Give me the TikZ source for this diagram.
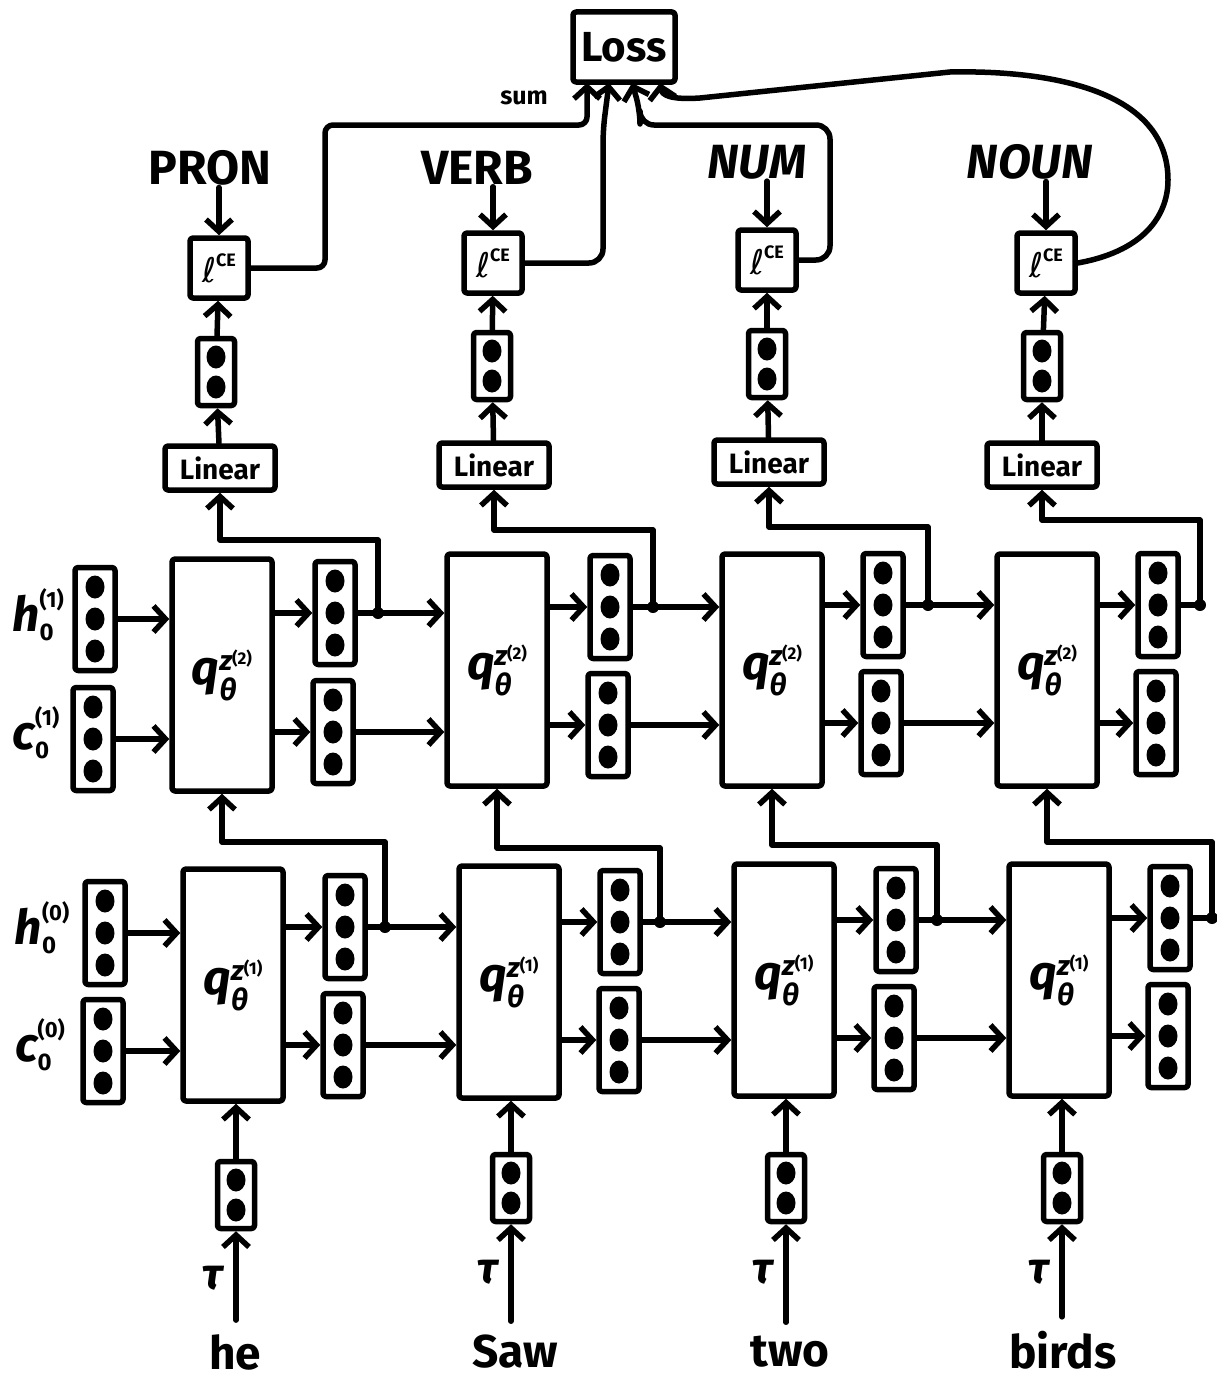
\documentclass[tikz,border=0pt]{standalone}
\usepackage{fontspec}
\setmainfont{Fira Sans}
\newfontfamily\sym{DejaVu Sans}
\usetikzlibrary{arrows.meta}
\newcommand\fs[1]{\fontsize{#1}{#1}\selectfont}
\newcommand\vthr[3]{\node[vthree] (#1) at (#2,#3) {};
  \foreach \d in {-32,0,32} \fill (#2,#3+\d) ellipse (9.5pt and 11.5pt);}
\newcommand\vtw[3]{\node[vtwo] (#1) at (#2,#3) {};
  \foreach \d in {-15,15} \fill (#2,#3+\d) ellipse (9.5pt and 11.5pt);}
\newcommand\hcl[3]{{\fs{48}\itshape\bfseries #1}\rlap{\raisebox{-9pt}{\fs{24}\bfseries #2}}\raisebox{24pt}{\fs{22}\bfseries(#3)}}
\newcommand\qlab[1]{{\fs{48}\itshape\bfseries q}\rlap{\raisebox{-16pt}{\fs{30}\itshape\bfseries θ}}\raisebox{14pt}{\fs{28}\itshape\bfseries z\raisebox{6pt}{\fs{17}\upshape(#1)}}}
\newcommand\celab{{\sym\fs{34}ℓ}\raisebox{16pt}{\fs{18}\bfseries CE}}
\begin{document}
\begin{tikzpicture}[x=1pt,y=-1pt, line width=5.5pt, line join=round, line cap=round,
  arr/.style={-{Straight Barb[length=12pt,width=26pt]}},
  box/.style={draw, rounded corners=3pt, inner sep=0pt},
  lstm/.style={box, minimum width=100pt, minimum height=232pt},
  vthree/.style={box, minimum width=40pt, minimum height=103pt},
  vtwo/.style={box, minimum width=37pt, minimum height=67pt},
  lin/.style={box, minimum width=110pt, minimum height=44pt, font=\fs{28}\bfseries},
  ce/.style={box, minimum width=58pt, minimum height=60pt},
  tag/.style={font=\fs{48}\bfseries},
  word/.style={font=\fs{46}\bfseries},
  tau/.style={font=\fs{44}\itshape\bfseries},
  dot/.style={circle, fill, inner sep=0pt, minimum size=12pt}]
\useasboundingbox (0,0) rectangle (1217,1381);

% Loss
\node[box, minimum width=102pt, minimum height=70pt, font=\fs{42}\bfseries] (Loss) at (624,47) {Loss};
\node[font=\fs{25}\bfseries] (sum) at (524,98) {sum};

% tags
\node[tag] (Pa) at (210,168) {PRON};
\node[tag] (Pb) at (477,168) {VERB};
\node[tag] (Pc) at (757,162) {\itshape NUM};
\node[tag] (Pd) at (1030,162) {\itshape NOUN};

% CE boxes
\node[ce] (CEa) at (219,268) {\celab};
\node[ce] (CEb) at (493,263) {\celab};
\node[ce] (CEc) at (767,260) {\celab};
\node[ce] (CEd) at (1046,263) {\celab};

% output vectors
\vtw{Va}{216}{372}
\vtw{Vb}{492}{366}
\vtw{Vc}{767}{364}
\vtw{Vd}{1042}{366}

% Linear
\node[lin] (LINa) at (220,468) {Linear};
\node[lin] (LINb) at (494,465) {Linear};
\node[lin] (LINc) at (769,462) {Linear};
\node[lin] (LINd) at (1042,465) {Linear};

% Layer 2
\node[lstm] (L2a) at (222,675) {\qlab{2}};
\node[lstm] (L2b) at (497,670) {\qlab{2}};
\node[lstm] (L2c) at (772,670) {\qlab{2}};
\node[lstm] (L2d) at (1047,670) {\qlab{2}};
\vthr{H2o}{95}{619}
\vthr{C2o}{93}{739}
\vthr{H2a}{335}{613}
\vthr{C2a}{333}{732}
\vthr{H2b}{610}{607}
\vthr{C2b}{608}{725}
\vthr{H2c}{883}{605}
\vthr{C2c}{881}{723}
\vthr{H2d}{1158}{605}
\vthr{C2d}{1156}{723}
\node (lh1) at (38,615) {\hcl{h}{0}{1}};
\node (lc1) at (36,733) {\hcl{c}{0}{1}};

% Layer 1
\node[lstm] (L1a) at (233,985) {\qlab{1}};
\node[lstm] (L1b) at (509,982) {\qlab{1}};
\node[lstm] (L1c) at (784,980) {\qlab{1}};
\node[lstm] (L1d) at (1059,980) {\qlab{1}};
\vthr{H1o}{105}{933}
\vthr{C1o}{103}{1051}
\vthr{H1a}{345}{927}
\vthr{C1a}{343}{1045}
\vthr{H1b}{620}{922}
\vthr{C1b}{619}{1040}
\vthr{H1c}{896}{920}
\vthr{C1c}{894}{1038}
\vthr{H1d}{1170}{918}
\vthr{C1d}{1168}{1036}
\node (lh0) at (42,928) {\hcl{h}{0}{0}};
\node (lc0) at (40,1045) {\hcl{c}{0}{0}};

% inputs
\vtw{Ia}{236}{1195}
\vtw{Ib}{511}{1188}
\vtw{Ic}{786}{1188}
\vtw{Id}{1062}{1188}
\node[word] (Wa) at (235,1352) {he};
\node[word] (Wb) at (515,1352) {Saw};
\node[word] (Wc) at (790,1352) {two};
\node[word] (Wd) at (1063,1350) {birds};
\node[tau] (Ta) at (213,1278) {τ};
\node[tau] (Tb) at (488,1272) {τ};
\node[tau] (Tc) at (763,1272) {τ};
\node[tau] (Td) at (1039,1272) {τ};

% ---- connectors: inputs
\foreach \c in {a,b,c,d} {
  \draw[arr] (W\c.north -| I\c) ++(0,-8) -- (I\c.south);
  \draw[arr] (I\c) -- (L1\c.south -| I\c);
}

% layer 1 horizontal
\draw[arr] (H1o) -- (L1a.west |- H1o);
\draw[arr] (C1o) -- (L1a.west |- C1o);
\foreach \c/\n in {a/b,b/c,c/d} {
  \draw[arr] (H1\c) -- (L1\n.west |- H1\c);
  \draw[arr] (C1\c) -- (L1\n.west |- C1\c);
}
\foreach \c in {a,b,c,d} {
  \draw[arr] (L1\c.east |- H1\c) -- (H1\c);
  \draw[arr] (L1\c.east |- C1\c) -- (C1\c);
}
% layer 1 -> layer 2
\node[dot] (J1a) at (385,927) {};
\node[dot] (J1b) at (660,922) {};
\node[dot] (J1c) at (937,920) {};
\draw (H1d) -- (1212,918) node[dot] (J1d) {};
\draw[arr] (J1a.center) -- (385,842) -| (L2a.south);
\draw[arr] (J1b.center) -- (660,848) -| (L2b.south);
\draw[arr] (J1c.center) -- (937,845) -| (L2c.south);
\draw[arr] (J1d.center) -- (1212,842) -| (L2d.south);

% layer 2 horizontal
\draw[arr] (H2o) -- (L2a.west |- H2o);
\draw[arr] (C2o) -- (L2a.west |- C2o);
\foreach \c/\n in {a/b,b/c,c/d} {
  \draw[arr] (H2\c) -- (L2\n.west |- H2\c);
  \draw[arr] (C2\c) -- (L2\n.west |- C2\c);
}
\foreach \c in {a,b,c,d} {
  \draw[arr] (L2\c.east |- H2\c) -- (H2\c);
  \draw[arr] (L2\c.east |- C2\c) -- (C2\c);
}
\node[dot] (J2a) at (378,613) {};
\node[dot] (J2b) at (653,607) {};
\node[dot] (J2c) at (928,605) {};
\draw (H2d) -- (1200,605) node[dot] (J2d) {};
\draw[arr] (J2a.center) -- (378,540) -| (LINa.south);
\draw[arr] (J2b.center) -- (653,530) -| (LINb.south);
\draw[arr] (J2c.center) -- (928,527) -| (LINc.south);
\draw[arr] (J2d.center) -- (1200,520) -| (LINd.south);

% heads
\foreach \c in {a,b,c,d} {
  \draw[arr] (LIN\c) -- (V\c);
  \draw[arr] (V\c) -- (CE\c);
  \draw[arr] (CE\c.north |- P\c.south) ++(0,-4) -- (CE\c.north);
}

% into loss
\coordinate (in1) at (587,83);
\coordinate (in2) at (609,83);
\coordinate (in3) at (632,83);
\coordinate (in4) at (660,83);
\draw[arr, rounded corners=8pt] (CEa.east) -| (325,125) -| (in1);
\draw[arr, rounded corners=14pt] (CEb.east) -| (603,130) -- (in2);
\draw[arr, rounded corners=14pt] (CEc.east) -| (830,125) -| (640,110) -- (in3);
\draw[arr] (CEd.east) .. controls (1150,250) and (1168,210) .. (1168,180)
  .. controls (1168,90) and (1050,70) .. (950,72)
  -- (700,98) .. controls (670,100) and (662,95) .. (in4);
\end{tikzpicture}
\end{document}
